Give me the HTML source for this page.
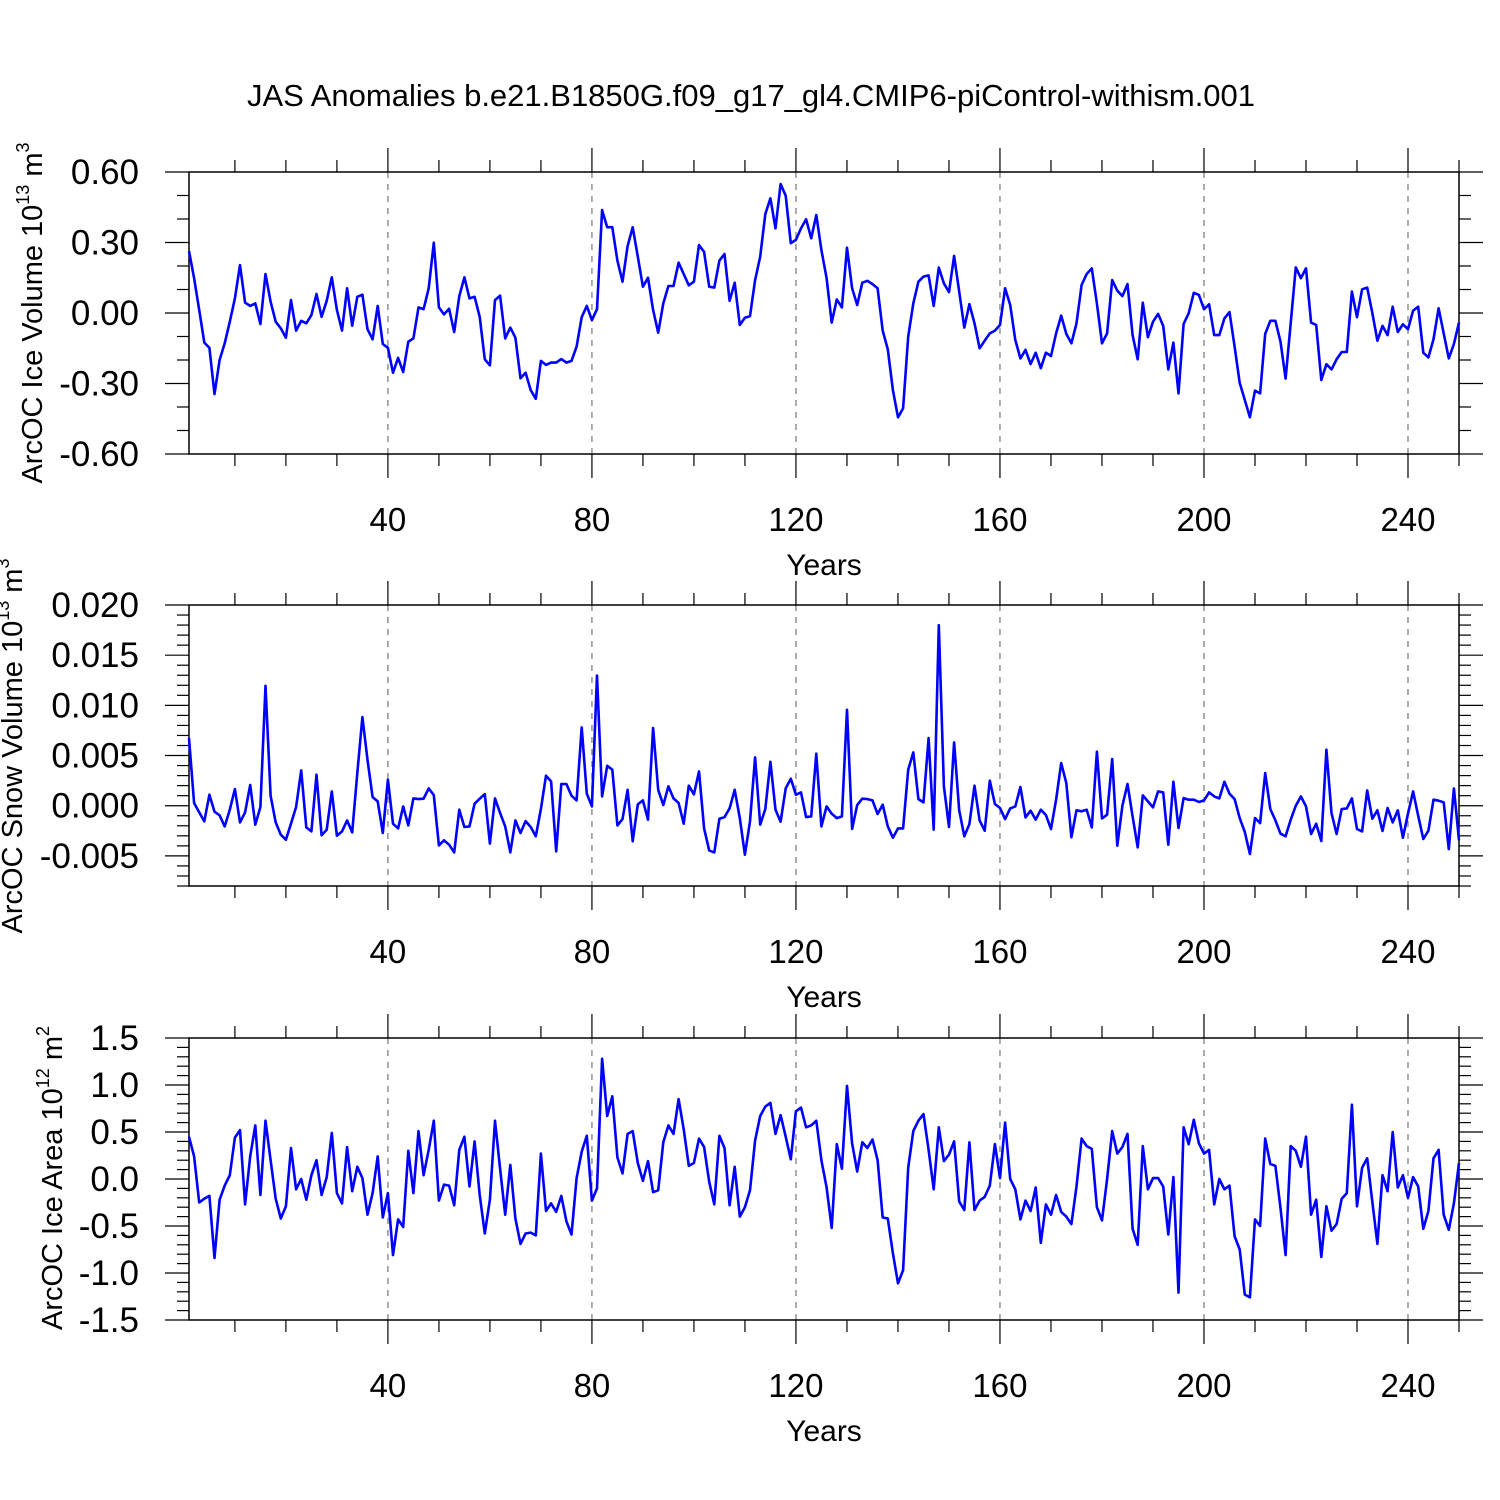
<!DOCTYPE html>
<html><head><meta charset="utf-8"><style>
html,body{margin:0;padding:0;background:#fff;}
svg{display:block;font-family:"Liberation Sans",Arial,sans-serif;}
</style></head><body>
<svg id="chart" width="1500" height="1500" viewBox="0 0 1500 1500" xmlns="http://www.w3.org/2000/svg">
<text x="751" y="106" font-size="31" text-anchor="middle">JAS Anomalies b.e21.B1850G.f09_g17_gl4.CMIP6-piControl-withism.001</text>
</svg>
<script>
const xTickLabels = [40, 80, 120, 160, 200, 240];
const iceVolume = [0.264,0.148,0.013,-0.126,-0.148,-0.345,-0.2,-0.129,-0.037,0.062,0.204,0.044,0.03,0.041,-0.047,0.166,0.048,-0.037,-0.065,-0.105,0.055,-0.075,-0.033,-0.044,-0.009,0.081,-0.016,0.052,0.152,0.013,-0.075,0.105,-0.054,0.069,0.078,-0.069,-0.112,0.03,-0.132,-0.148,-0.254,-0.191,-0.251,-0.122,-0.108,0.024,0.016,0.105,0.299,0.024,-0.006,0.018,-0.081,0.072,0.152,0.062,0.069,-0.016,-0.197,-0.223,0.055,0.074,-0.108,-0.062,-0.105,-0.278,-0.254,-0.328,-0.365,-0.204,-0.221,-0.211,-0.211,-0.196,-0.211,-0.204,-0.143,-0.018,0.03,-0.03,0.016,0.438,0.365,0.365,0.223,0.133,0.285,0.365,0.24,0.112,0.15,0.013,-0.084,0.041,0.115,0.115,0.214,0.166,0.118,0.133,0.289,0.26,0.112,0.108,0.223,0.251,0.052,0.129,-0.051,-0.02,-0.013,0.14,0.24,0.421,0.488,0.36,0.549,0.499,0.297,0.311,0.36,0.399,0.318,0.417,0.268,0.148,-0.041,0.058,0.024,0.278,0.105,0.034,0.129,0.137,0.123,0.105,-0.075,-0.155,-0.328,-0.444,-0.406,-0.101,0.041,0.133,0.155,0.16,0.03,0.193,0.126,0.089,0.243,0.091,-0.062,0.038,-0.044,-0.15,-0.118,-0.087,-0.075,-0.051,0.105,0.034,-0.115,-0.193,-0.157,-0.217,-0.169,-0.235,-0.169,-0.183,-0.087,-0.011,-0.089,-0.129,-0.044,0.119,0.166,0.19,0.041,-0.129,-0.087,0.14,0.095,0.072,0.123,-0.094,-0.197,0.044,-0.103,-0.037,-0.004,-0.055,-0.24,-0.126,-0.342,-0.047,-0.001,0.086,0.077,0.016,0.037,-0.094,-0.094,-0.023,0.004,-0.143,-0.297,-0.37,-0.444,-0.33,-0.342,-0.089,-0.033,-0.033,-0.122,-0.279,-0.044,0.194,0.148,0.19,-0.041,-0.051,-0.285,-0.218,-0.24,-0.197,-0.166,-0.166,0.091,-0.018,0.101,0.108,0.001,-0.118,-0.055,-0.094,0.027,-0.081,-0.048,-0.069,0.01,0.027,-0.169,-0.189,-0.112,0.02,-0.087,-0.193,-0.132,-0.041];
const snowVolume = [6.74,0.27,-0.66,-1.56,1.1,-0.6,-0.96,-2.06,-0.4,1.66,-1.66,-0.66,2.06,-1.89,-0.13,11.95,1.0,-1.66,-2.89,-3.39,-1.79,-0.13,3.52,-2.16,-2.56,3.09,-2.95,-2.39,1.43,-2.99,-2.56,-1.46,-2.66,3.25,8.83,4.58,0.86,0.43,-2.72,2.59,-1.79,-2.26,-0.07,-1.96,0.73,0.66,0.7,1.73,1.06,-3.95,-3.45,-3.88,-4.65,-0.4,-2.12,-2.06,0.2,0.7,1.16,-3.78,0.73,-0.73,-2.06,-4.65,-1.46,-2.72,-1.53,-2.12,-3.05,-0.33,2.99,2.42,-4.55,2.16,2.16,1.0,0.53,7.8,1.2,-0.07,12.98,0.93,3.98,3.59,-1.96,-1.33,1.59,-3.55,0.13,0.53,-1.39,7.74,1.59,0.07,1.93,0.73,0.27,-1.79,1.99,1.13,3.42,-2.26,-4.45,-4.65,-1.29,-1.13,-0.27,1.59,-1.23,-4.88,-1.56,4.81,-1.89,-0.33,4.38,-0.4,-1.59,1.73,2.69,1.1,1.33,-1.13,-1.06,5.18,-2.06,-0.07,-0.8,-1.23,-1.06,9.56,-2.32,0.07,0.7,0.66,0.53,-0.83,0.1,-2.06,-3.19,-2.26,-2.26,3.59,5.31,0.66,0.33,6.74,-2.39,17.99,1.93,-2.12,6.31,-0.46,-3.05,-1.83,1.99,-1.46,-2.49,2.49,0.17,-0.23,-1.33,-0.27,-0.07,1.86,-1.16,-0.5,-1.39,-0.4,-0.93,-2.32,0.6,4.25,2.26,-3.15,-0.46,-0.56,-0.4,-2.16,5.38,-1.26,-0.9,4.65,-3.98,0,2.16,-1.06,-4.15,1.03,0.43,-0.17,1.43,1.33,-3.88,2.39,-2.22,0.76,0.6,0.6,0.37,0.53,1.33,0.93,0.73,2.39,1.2,0.66,-1.23,-2.62,-4.81,-1.23,-1.73,3.25,-0.33,-1.46,-2.79,-3.05,-1.39,0,0.93,-0.07,-2.82,-1.79,-3.52,5.58,-0.73,-2.82,-0.33,-0.27,0.73,-2.32,-2.56,1.53,-1.29,-0.46,-2.52,-0.23,-1.66,-0.46,-3.19,-0.8,1.43,-1.0,-3.32,-2.49,0.6,0.5,0.33,-4.32,1.73,-3.45].map(v => v / 1000);
const iceArea = [0.45,0.24,-0.25,-0.21,-0.18,-0.84,-0.22,-0.07,0.04,0.44,0.52,-0.27,0.24,0.57,-0.17,0.62,0.2,-0.21,-0.42,-0.29,0.33,-0.11,0,-0.22,0.04,0.2,-0.17,0.02,0.49,-0.15,-0.26,0.34,-0.13,0.13,0.01,-0.38,-0.15,0.24,-0.41,-0.15,-0.81,-0.43,-0.51,0.3,-0.15,0.51,0.04,0.31,0.62,-0.23,-0.06,-0.07,-0.28,0.31,0.45,-0.08,0.4,-0.17,-0.58,-0.22,0.62,0.11,-0.38,0.15,-0.42,-0.69,-0.58,-0.57,-0.6,0.27,-0.34,-0.26,-0.35,-0.18,-0.45,-0.59,0.01,0.29,0.46,-0.23,-0.1,1.28,0.67,0.88,0.23,0.06,0.48,0.51,0.17,-0.02,0.19,-0.14,-0.12,0.39,0.57,0.48,0.85,0.53,0.14,0.17,0.43,0.34,-0.03,-0.27,0.46,0.33,-0.28,0.13,-0.4,-0.3,-0.12,0.41,0.67,0.77,0.81,0.48,0.68,0.45,0.21,0.72,0.76,0.55,0.57,0.62,0.2,-0.09,-0.52,0.37,0.11,0.99,0.38,0.08,0.39,0.33,0.42,0.2,-0.41,-0.42,-0.79,-1.11,-0.97,0.12,0.51,0.62,0.69,0.31,-0.11,0.55,0.19,0.26,0.4,-0.24,-0.33,0.39,-0.33,-0.23,-0.19,-0.07,0.37,0.01,0.6,0,-0.11,-0.43,-0.23,-0.34,-0.09,-0.68,-0.27,-0.38,-0.17,-0.35,-0.4,-0.48,-0.08,0.43,0.35,0.32,-0.3,-0.44,0,0.51,0.27,0.34,0.48,-0.53,-0.7,0.35,-0.11,0.01,0.01,-0.08,-0.59,0.02,-1.21,0.55,0.37,0.63,0.38,0.27,0.31,-0.27,0,-0.11,-0.07,-0.61,-0.75,-1.23,-1.26,-0.43,-0.5,0.43,0.16,0.14,-0.31,-0.81,0.35,0.3,0.13,0.45,-0.38,-0.22,-0.83,-0.29,-0.55,-0.48,-0.21,-0.15,0.79,-0.29,0.12,0.22,-0.24,-0.69,0.04,-0.13,0.5,-0.09,0.04,-0.2,0.02,-0.08,-0.53,-0.34,0.22,0.31,-0.38,-0.54,-0.26,0.17];
const yTicks1 = ["0.60","0.30","0.00","-0.30","-0.60"];
const yTicks2 = ["0.020","0.015","0.010","0.005","0.000","-0.005"];
const yTicks3 = ["1.5","1.0","0.5","0.0","-0.5","-1.0","-1.5"];

const NS = "http://www.w3.org/2000/svg";
const svg = document.getElementById('chart');
const X0 = 189, X1 = 1459, YR0 = 1, YR1 = 250;
function xScale(yr){ return X0 + (yr - YR0) * (X1 - X0) / (YR1 - YR0); }
function mk(tag, attrs, parent){
  const e = document.createElementNS(NS, tag);
  for (const k in attrs) e.setAttribute(k, attrs[k]);
  (parent || svg).appendChild(e);
  return e;
}

function panel(cfg){
  const g = mk('g', {});
  
  
  const yScale = v => cfg.top + (cfg.vmax - v) * (cfg.bot - cfg.top) / (cfg.vmax - cfg.vmin);
  for (const t of xTickLabels){
    const l = mk('line', {x1: xScale(t), x2: xScale(t), y1: cfg.top, y2: cfg.bot, stroke: '#777', 'stroke-width': 1.2, 'stroke-dasharray': '6,6'}, g);
    
    
  }
  for (let yr = 10; yr <= 250; yr += 10){
    const major = yr % 40 === 0;
    const len = major ? 24 : 12;
    const x = xScale(yr);
    mk('line', {x1: x, x2: x, y1: cfg.bot, y2: cfg.bot + len, stroke: '#000', 'stroke-width': 1.2}, g);
    mk('line', {x1: x, x2: x, y1: cfg.top, y2: cfg.top - len, stroke: '#000', 'stroke-width': 1.2}, g);
  }
  xTickLabels.forEach(t => {
    const tx = mk('text', {x: xScale(t), y: cfg.bot + 77, 'font-size': 33, 'text-anchor': 'middle'}, g);
    tx.textContent = t;
    
    
  });
  const xt = mk('text', {x: 824, y: cfg.bot + 121, 'font-size': 30, 'text-anchor': 'middle'}, g);
  xt.textContent = 'Years';
  
  
  const nMinor = Math.round((cfg.vmax - cfg.vmin) / cfg.minor);
  for (let i = 0; i <= nMinor; i++){
    const v = cfg.vmin + i * cfg.minor;
    const y = yScale(v);
    const major = Math.abs(Math.round(v / cfg.major) * cfg.major - v) < cfg.minor / 10;
    const len = major ? 24 : 12;
    mk('line', {x1: X0, x2: X0 - len, y1: y, y2: y, stroke: '#000', 'stroke-width': 1.2}, g);
    mk('line', {x1: X1, x2: X1 + len, y1: y, y2: y, stroke: '#000', 'stroke-width': 1.2}, g);
  }
  cfg.labels.forEach(lab => {
    const y = yScale(parseFloat(lab));
    const tx = mk('text', {x: 139, y: y + 12, 'font-size': 35, 'text-anchor': 'end'}, g);
    tx.textContent = lab;
    
    
  });
  const fr = mk('rect', {x: X0, y: cfg.top, width: X1 - X0, height: cfg.bot - cfg.top, fill: 'none', stroke: '#000', 'stroke-width': 1.5}, g);
  
  
  const pts = cfg.data.map((v, i) => xScale(i + 1).toFixed(1) + ',' + yScale(v).toFixed(1)).join(' ');
  const pl = mk('polyline', {points: pts, fill: 'none', stroke: '#0000ff', 'stroke-width': 2.6, 'stroke-linejoin': 'round'}, g);
  
  
  const yt = mk('text', {transform: 'translate(' + cfg.tx + ',' + cfg.ty + ') rotate(-90)', 'font-size': 29, 'text-anchor': 'middle'}, g);
  yt.innerHTML = cfg.title + ' 10<tspan font-size="18" dy="-13">' + cfg.exp + '</tspan><tspan dy="13"> m</tspan><tspan font-size="18" dy="-13">' + cfg.unitExp + '</tspan>';
  
  
}

panel({name: 'ice-volume-panel', top: 172, bot: 454, vmax: 0.6, vmin: -0.6, major: 0.3, minor: 0.1, labels: yTicks1, data: iceVolume, title: 'ArcOC Ice Volume', exp: '13', unitExp: '3', tx: 42, ty: 313});
panel({name: 'snow-volume-panel', top: 605, bot: 886, vmax: 0.020, vmin: -0.008, major: 0.005, minor: 0.001, labels: yTicks2, data: snowVolume, title: 'ArcOC Snow Volume', exp: '13', unitExp: '3', tx: 22, ty: 746});
panel({name: 'ice-area-panel', top: 1038, bot: 1320, vmax: 1.5, vmin: -1.5, major: 0.5, minor: 0.1, labels: yTicks3, data: iceArea, title: 'ArcOC Ice Area', exp: '12', unitExp: '2', tx: 62, ty: 1178});
</script>
</body></html>
